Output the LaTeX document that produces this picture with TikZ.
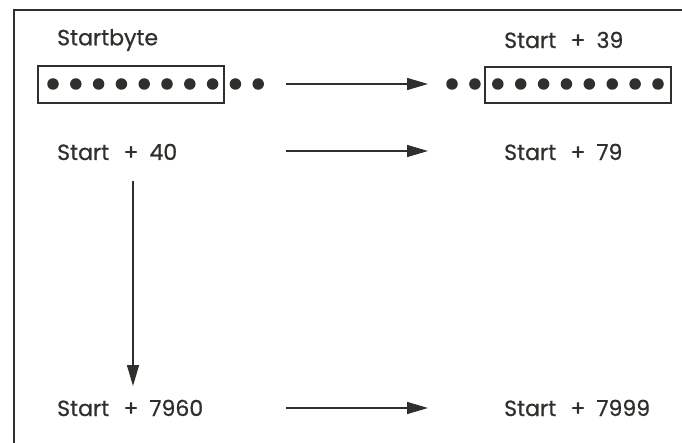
\documentclass[tikz,border=0pt]{standalone}
\usepackage{fontspec}
\setmainfont{Poppins}
\newfontfamily\lblfont{Poppins}[FakeBold=0.7]
\usetikzlibrary{arrows.meta}
\definecolor{ink}{HTML}{2E302C}
\tikzset{
  lbl/.style={anchor=west, inner sep=0pt, text=ink, font=\lblfont\fontsize{22}{22}\selectfont},
  frame/.style={draw=ink, line width=2pt},
  bytebox/.style={draw=ink, line width=2pt, fill=none},
  conn/.style={draw=ink, line width=1.4pt, -{Triangle[length=21pt,width=12pt]}},
  bytedot/.style={circle, fill=ink, inner sep=0pt, minimum size=11.5pt}
}
\newcommand{\lblplus}[1]{Start\hspace{0.65em}+\hspace{0.5em}#1}
\begin{document}
\begin{tikzpicture}[x=1pt,y=-1pt]
\useasboundingbox (0,0) rectangle (682,443);
\fill[white] (0,0) rectangle (682,443);
% frame
\draw[frame] (14,443) -- (14,10) -- (682,10);
% labels
\node[lbl] (sb) at (57,40) {Startbyte};
\node[lbl] (s39) at (504,40) {\lblplus{39}};
\node[lbl] (s40) at (57,152) {\lblplus{40}};
\node[lbl] (s79) at (504,152) {\lblplus{79}};
\node[lbl] (s7960) at (57,408) {\lblplus{7960}};
\node[lbl] (s7999) at (504,408) {\lblplus{7999}};
% byte boxes
\node[bytebox, minimum width=186pt, minimum height=37pt, inner sep=0pt] (boxL) at (131,84.5) {};
\node[bytebox, minimum width=186pt, minimum height=36pt, inner sep=0pt] (boxR) at (578,85) {};
\foreach \i [count=\k] in {53,75.8,98.6,121.4,144.2,167,189.8,212.6,235.4,258.2}
  \node[bytedot] (dl\k) at (\i,84) {};
\foreach \i [count=\k] in {452,474.9,497.8,520.7,543.6,566.4,589.3,612.2,635.1,658}
  \node[bytedot] (dr\k) at (\i,84) {};
% connector ends
\coordinate (a1s) at (286,84);  \coordinate (a1e) at (428,84);
\coordinate (a2s) at (286,151); \coordinate (a2e) at (428,151);
\coordinate (a3s) at (286,408); \coordinate (a3e) at (428,408);
\coordinate (vs) at (133,181);  \coordinate (ve) at (133,386);
\draw[conn] (a1s) -- (a1e);
\draw[conn] (a2s) -- (a2e);
\draw[conn] (a3s) -- (a3e);
\draw[conn] (vs) -- (ve);
\end{tikzpicture}
\end{document}
